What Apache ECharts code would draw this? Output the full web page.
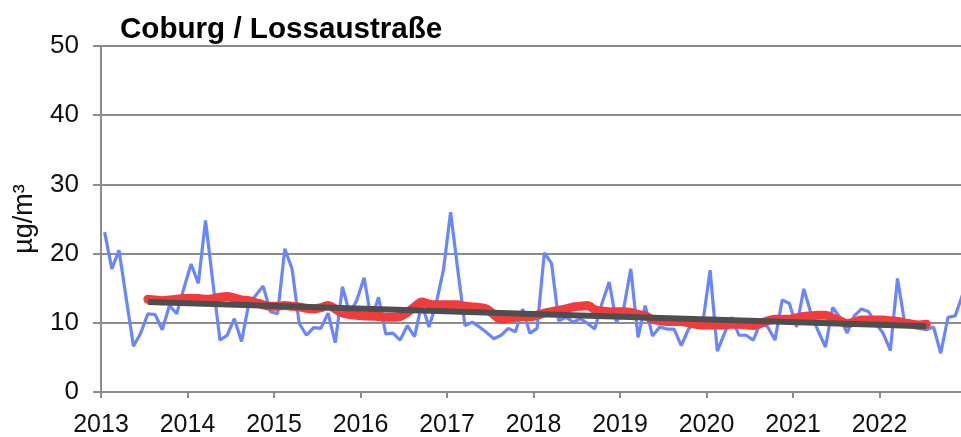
<!DOCTYPE html>
<html>
<head>
<meta charset="utf-8">
<script src="https://cdn.jsdelivr.net/npm/echarts@6/dist/echarts.min.js"></script>
<style>
  html, body { margin: 0; padding: 0; background: #fff; }
  #chart { width: 961px; height: 437px; }
</style>
</head>
<body>
<div id="chart"></div>
<script>
const startYear = 2013;
const yearTicks = [2013, 2014, 2015, 2016, 2017, 2018, 2019, 2020, 2021, 2022];

// monthly means, Jan 2013 .. Dec 2022
const monthlyValues = [
  23.1, 17.8, 20.5, 13.5, 6.6, 8.5, 11.3, 11.2, 9.0, 12.5, 11.3, 15.0,
  18.5, 15.7, 24.8, 16.0, 7.5, 8.2, 10.6, 7.3, 12.8, 14.0, 15.3, 11.6,
  11.3, 20.7, 17.8, 9.9, 8.2, 9.3, 9.2, 11.4, 7.1, 15.2, 11.3, 13.3,
  16.5, 10.4, 13.7, 8.4, 8.5, 7.5, 9.6, 8.0, 12.8, 9.4, 12.8, 17.6,
  26.0, 17.6, 9.6, 10.1, 9.4, 8.6, 7.7, 8.2, 9.2, 8.7, 12.0, 8.5,
  9.2, 20.1, 18.6, 10.3, 10.8, 10.1, 10.6, 9.9, 9.1, 12.8, 15.9, 10.1,
  12.0, 17.8, 7.9, 12.5, 8.1, 9.4, 9.1, 9.1, 6.7, 9.1, 9.9, 10.1,
  17.6, 5.9, 8.5, 10.8, 8.2, 8.2, 7.5, 10.1, 9.4, 7.5, 13.3, 12.8,
  9.4, 14.9, 11.3, 8.8, 6.5, 12.2, 10.8, 8.5, 11.0, 12.0, 11.6, 9.9,
  8.5, 6.0, 16.4, 9.9, 9.4, 9.2, 9.0, 9.4, 5.6, 10.8, 11.0, 14.0
];

// running annual mean, starts at month index 6
const runningStart = 6;
const runningValues = [
  13.4, 13.3, 13.2, 13.3, 13.4, 13.5, 13.5, 13.5, 13.4, 13.5, 13.7, 13.8,
  13.6, 13.3, 13.2, 12.9, 12.6, 12.4, 12.4, 12.5, 12.4, 12.3, 12.1, 12.0,
  12.2, 12.5, 12.0, 11.4, 11.2, 11.1, 11.0, 11.0, 10.9, 10.8, 10.8, 10.9,
  11.5, 12.3, 13.0, 12.7, 12.6, 12.6, 12.6, 12.6, 12.4, 12.3, 12.2, 12.0,
  11.2, 10.5, 10.6, 10.8, 10.9, 10.9, 11.1, 11.4, 11.6, 11.8, 12.0, 12.3,
  12.4, 12.5, 11.9, 11.7, 11.6, 11.6, 11.6, 11.5, 11.2, 11.0, 10.5, 10.3,
  10.2, 10.2, 10.2, 10.0, 9.8, 9.7, 9.7, 9.7, 9.7, 9.8, 9.8, 9.7,
  9.6, 9.9, 10.3, 10.5, 10.5, 10.5, 10.7, 10.9, 11.0, 11.1, 11.1, 10.7,
  10.3, 9.9, 10.1, 10.4, 10.4, 10.4, 10.4, 10.3, 10.2, 10.0, 9.8, 9.7, 9.8
];

// linear trend: month index and value at both ends
const trendMonths = [6, 114];
const trendValues = [13.0, 9.5];

const yTicks = [0, 10, 20, 30, 40, 50];

function monthX(i) {
  return startYear + (i + 0.5) / 12;
}

const blueData = monthlyValues.map((v, i) => [monthX(i), v]);
const redData = runningValues.map((v, k) => [monthX(runningStart + k), v]);
const trendData = trendMonths.map((m, k) => [monthX(m), trendValues[k]]);

const chart = echarts.init(document.getElementById('chart'), null, { renderer: 'canvas' });

const font = 'Liberation Sans, Arial, sans-serif';

chart.setOption({
  animation: false,
  backgroundColor: '#ffffff',
  title: {
    text: 'Coburg / Lossaustraße',
    left: 120,
    top: 15,
    padding: 0,
    textStyle: { fontFamily: font, fontSize: 29.6, fontWeight: 'bold', color: '#000' }
  },
  // the plot runs on past the right edge of the picture, up to 2023
  grid: { left: 101, width: 865, top: 46, bottom: 45, outerBoundsMode: 'none', containLabel: false },
  xAxis: {
    type: 'value',
    min: yearTicks[0],
    max: 2023,
    interval: 1,
    axisLine: { show: true, lineStyle: { color: '#8c8c8c', width: 2 } },
    axisTick: { show: true, length: 6, lineStyle: { color: '#8c8c8c', width: 2 } },
    splitLine: { show: false },
    axisLabel: {
      margin: 21,
      fontFamily: font,
      fontSize: 25,
      color: '#111',
      formatter: v => (yearTicks.indexOf(v) >= 0 ? String(v) : '')
    }
  },
  yAxis: {
    type: 'value',
    min: yTicks[0],
    max: yTicks[yTicks.length - 1],
    interval: 10,
    name: 'µg/m³',
    nameLocation: 'middle',
    nameGap: 63,
    nameTextStyle: { fontFamily: font, fontSize: 27, color: '#111' },
    axisLine: { show: true, lineStyle: { color: '#8c8c8c', width: 2 } },
    axisTick: { show: true, length: 8, lineStyle: { color: '#8c8c8c', width: 2 } },
    splitLine: { show: true, lineStyle: { color: '#8c8c8c', width: 2 } },
    axisLabel: { margin: 22, fontFamily: font, fontSize: 26, color: '#111' }
  },
  series: [
    {
      name: 'Monatsmittel',
      type: 'line',
      data: blueData,
      symbol: 'none',
      lineStyle: { color: '#6a86ff', width: 3.2 },
      z: 2
    },
    {
      name: 'Gleitendes Jahresmittel',
      type: 'line',
      data: redData,
      symbol: 'none',
      smooth: 0.3,
      lineStyle: { color: '#f23c3c', width: 9, cap: 'round' },
      z: 3
    },
    {
      name: 'Trend',
      type: 'line',
      data: trendData,
      symbol: 'none',
      lineStyle: { color: '#4e4e4e', width: 6 },
      z: 4
    }
  ]
});
</script>
</body>
</html>
